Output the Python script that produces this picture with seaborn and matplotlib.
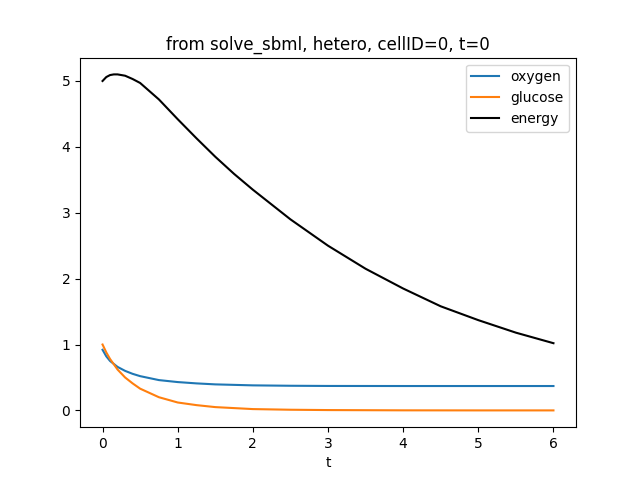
import matplotlib
matplotlib.use("Agg")
import matplotlib.pyplot as plt
import seaborn as sns

t_energy = [0, 0.05, 0.1, 0.15, 0.2, 0.3, 0.4, 0.5, 0.75, 1.0, 1.25, 1.5, 1.75, 2.0, 2.5, 3.0, 3.5, 4.0, 4.5, 5.0, 5.5, 6.0]
energy = [5.0, 5.06, 5.09, 5.1, 5.1, 5.08, 5.03, 4.97, 4.72, 4.42, 4.13, 3.85, 3.59, 3.35, 2.9, 2.5, 2.15, 1.85, 1.58, 1.37, 1.18, 1.02]

t_species = [0, 0.05, 0.1, 0.2, 0.3, 0.4, 0.5, 0.75, 1.0, 1.25, 1.5, 2.0, 2.5, 3.0, 4.0, 5.0, 6.0]
oxygen = [0.92, 0.82, 0.75, 0.66, 0.6, 0.555, 0.52, 0.46, 0.43, 0.41, 0.395, 0.38, 0.374, 0.371, 0.37, 0.37, 0.37]
glucose = [1.0, 0.88, 0.78, 0.62, 0.5, 0.41, 0.33, 0.2, 0.12, 0.08, 0.05, 0.02, 0.01, 0.005, 0.001, 0.0, 0.0]

fig, ax = plt.subplots(figsize=(6.4, 4.8), dpi=100)
sns.lineplot(x=t_species, y=oxygen, ax=ax, color="#1f77b4", label="oxygen")
sns.lineplot(x=t_species, y=glucose, ax=ax, color="#ff7f0e", label="glucose")
sns.lineplot(x=t_energy, y=energy, ax=ax, color="black", label="energy")
ax.set_xlabel("t")
ax.set_title("from solve_sbml, hetero, cellID=0, t=0")
ax.legend(loc="upper right")
fig.savefig("out.png")
